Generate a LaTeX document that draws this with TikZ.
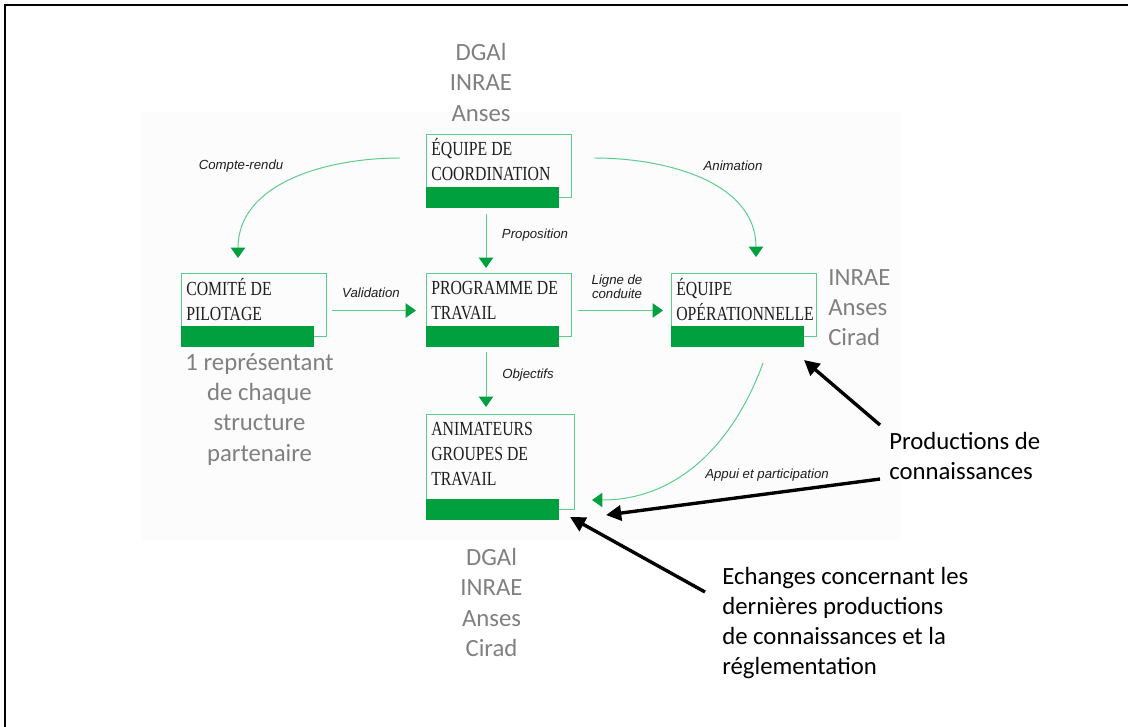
\documentclass[tikz,border=0pt]{standalone}
\usepackage{fontspec}
\setmainfont{Carlito}
\newfontfamily\boxfont[FakeStretch=0.79]{Liberation Serif}
\newfontfamily\labelfont{Liberation Sans}
\usetikzlibrary{arrows.meta,calc}
\definecolor{diagramgreen}{HTML}{00A03E}
\definecolor{diagramline}{HTML}{5ACD8C}
\definecolor{diagramgrey}{HTML}{808080}
\definecolor{diagramink}{HTML}{1E1E1E}
\definecolor{diagrampanel}{HTML}{FCFCFC}

\tikzset{
  unitbox/.style={draw=diagramline,line width=.7pt,minimum width=3.625cm,
    minimum height=1.575cm,inner sep=0pt,outer sep=0pt,anchor=north west},
  unittext/.style={anchor=north west,inner sep=0pt,align=left,text=diagramink,
    font=\boxfont\fontsize{14.2}{17.7}\selectfont},
  unitbar/.style={fill=diagramgreen},
  flow/.style={draw=diagramline,line width=.7pt,
    -{Triangle[width=3.6mm,length=2.6mm,color=diagramgreen]}},
  flowlabel/.style={inner sep=0pt,text=diagramink,align=center,
    font=\labelfont\itshape\fontsize{9.4}{10}\selectfont},
  members/.style={inner sep=0pt,text=diagramgrey,align=center,
    font=\fontsize{17.6}{21.6}\selectfont},
  note/.style={inner sep=0pt,anchor=north west,align=left,text=black,
    font=\fontsize{17.6}{21.4}\selectfont},
  pointer/.style={line width=2.4pt,-{Triangle[width=3.8mm,length=3.8mm]}}
}

\begin{document}
\begin{tikzpicture}[x=.025cm,y=-.025cm]
        \useasboundingbox (0,0) rectangle (1128,727);
        \fill[diagrampanel] (142,112) rectangle (901,540);
        \draw[line width=1pt] (5,727) -- (5,5) -- (1128,5);

        \node[unitbox] (coord) at (426,134) {};
        \fill[unitbar] ($(coord.south west)+(0,-10)$) rectangle ++(133,21);
        \node[unittext] (coordtext) at (431,138) {ÉQUIPE DE\\COORDINATION};

        \node[unitbox] (comite) at (181,273) {};
        \fill[unitbar] ($(comite.south west)+(0,-10)$) rectangle ++(133,21);
        \node[unittext] (comitetext) at (186,278) {COMITÉ DE\\PILOTAGE};

        \node[unitbox] (prog) at (426,273) {};
        \fill[unitbar] ($(prog.south west)+(0,-10)$) rectangle ++(133,21);
        \node[unittext] (progtext) at (431,281) {PROGRAMME DE\\TRAVAIL};

        \node[unitbox] (op) at (671,273) {};
        \fill[unitbar] ($(op.south west)+(0,-10)$) rectangle ++(133,21);
        \node[unittext] (optext) at (676,278) {ÉQUIPE\\OPÉRATIONNELLE};

        \node[unitbox,minimum width=3.7cm,minimum height=2.375cm] (anim) at (426,414) {};
        \fill[unitbar] ($(anim.south west)+(0,-10)$) rectangle ++(133,21);
        \node[unittext] (animtext) at (431,422) {ANIMATEURS\\GROUPES DE\\TRAVAIL};

        \node[members,anchor=north] (coordmembers) at (481,43) {DGAl\\INRAE\\Anses};
        \node[members,anchor=north west,align=left] (opmembers) at (828,269) {INRAE\\Anses\\Cirad};
        \node[members,anchor=north] (comitemembers) at (259.5,353) {1 représentant\\de chaque\\structure\\partenaire};
        \node[members,anchor=north] (animmembers) at (491.5,548) {DGAl\\INRAE\\Anses\\Cirad};

        \draw[flow] ($(coord.south west)+(60,17)$) -- ($(prog.north west)+(60,-5)$);
        \draw[flow] ($(prog.south west)+(60,16)$) -- ($(anim.north west)+(60,-7)$);
        \draw[flow] ($(comite.east)+(6,6)$) -- ($(prog.west)+(-10,6)$);
        \draw[flow] ($(prog.east)+(7,6)$) -- ($(op.west)+(-8,6)$);
        \draw[flow] ($(coord.north west)+(-26,24)$) to[out=180,in=90] ($(comite.north west)+(57,-15)$);
        \draw[flow] ($(coord.north east)+(23,24)$) to[out=0,in=90] ($(op.north west)+(85,-16)$);
        \draw[flow] ($(op.south west)+(92,27)$) to[out=-110,in=0] ($(anim.north east)+(18,86)$);

        \node[flowlabel] (compterendu) at (241,166) {Compte-rendu};
        \node[flowlabel] (animation) at (733,166) {Animation};
        \node[flowlabel] (proposition) at (535,235) {Proposition};
        \node[flowlabel] (validation) at (371,293) {Validation};
        \node[flowlabel] (ligne) at (617,287) {Ligne de\\conduite};
        \node[flowlabel] (objectifs) at (528,375) {Objectifs};
        \node[flowlabel] (appui) at (767,475) {Appui et participation};

        \node[note] (prod) at (889,432) {Productions de\\connaissances};
        \node[note] (echanges) at (722,567) {Echanges concernant les\\dernières productions\\de connaissances et la\\réglementation};

        \draw[pointer] ($(prod.north west)+(-9,-7)$) -- ($(op.south east)+(-12,24)$);
        \draw[pointer] ($(prod.south west)+(-9,-1)$) -- ($(anim.south east)+(32,6)$);
        \draw[pointer] ($(echanges.north west)+(-17,25)$) -- ($(anim.south east)+(-4,8)$);
      \end{tikzpicture}
\end{document}
